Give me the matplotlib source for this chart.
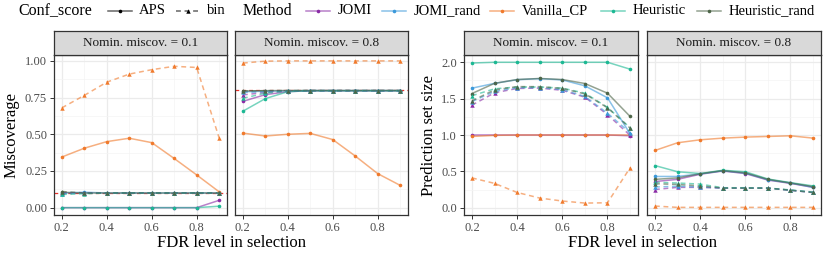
import matplotlib.pyplot as plt
from matplotlib.lines import Line2D

plt.rcParams["font.family"] = ["Liberation Serif", "DejaVu Serif"]

fdr = [0.2, 0.3, 0.4, 0.5, 0.6, 0.7, 0.8, 0.9]
methods = ["JOMI", "JOMI_rand", "Vanilla_CP", "Heuristic", "Heuristic_rand"]
colors = ["#8A2BA6", "#3B99DA", "#F07A2C", "#1CB893", "#4D6548"]
scores = ["APS", "bin"]
nominal = [0.1, 0.8]

# miscoverage, rows follow `methods`
miscov_01_aps = [
    [0, 0, 0, 0, 0, 0, 0, 0.05],
    [0.1, 0.105, 0.1, 0.1, 0.1, 0.1, 0.1, 0.1],
    [0.345, 0.405, 0.45, 0.473, 0.443, 0.335, 0.223, 0.108],
    [0, 0, 0, 0, 0, 0, 0, 0.01],
    [0.105, 0.1, 0.1, 0.1, 0.1, 0.1, 0.1, 0.1],
]
miscov_01_bin = [
    [0.1, 0.1, 0.1, 0.1, 0.1, 0.1, 0.1, 0.1],
    [0.095, 0.1, 0.1, 0.1, 0.1, 0.1, 0.1, 0.1],
    [0.68, 0.765, 0.855, 0.91, 0.94, 0.963, 0.955, 0.475],
    [0.09, 0.095, 0.1, 0.1, 0.1, 0.1, 0.1, 0.1],
    [0.11, 0.1, 0.1, 0.1, 0.1, 0.1, 0.1, 0.1],
]
miscov_08_aps = [
    [0.724, 0.77, 0.79, 0.797, 0.797, 0.797, 0.797, 0.797],
    [0.79, 0.793, 0.796, 0.797, 0.797, 0.797, 0.797, 0.797],
    [0.508, 0.488, 0.5, 0.506, 0.464, 0.352, 0.232, 0.152],
    [0.657, 0.743, 0.79, 0.797, 0.797, 0.797, 0.797, 0.797],
    [0.795, 0.797, 0.798, 0.798, 0.798, 0.798, 0.798, 0.798],
]
miscov_08_bin = [
    [0.768, 0.785, 0.795, 0.797, 0.797, 0.797, 0.797, 0.797],
    [0.785, 0.79, 0.797, 0.797, 0.797, 0.797, 0.797, 0.797],
    [0.985, 0.998, 1.0, 1.0, 1.0, 1.0, 1.0, 1.0],
    [0.745, 0.78, 0.795, 0.797, 0.797, 0.797, 0.797, 0.797],
    [0.795, 0.797, 0.798, 0.798, 0.798, 0.798, 0.798, 0.798],
]

# prediction set size
size_01_aps = [
    [1.0, 1.0, 1.0, 1.0, 1.0, 1.0, 1.0, 0.99],
    [1.644, 1.71, 1.76, 1.775, 1.757, 1.676, 1.511, 1.016],
    [0.98, 0.995, 1.0, 1.0, 1.0, 1.0, 1.0, 1.0],
    [1.99, 2.0, 2.0, 2.0, 2.0, 2.0, 2.0, 1.905],
    [1.57, 1.71, 1.763, 1.777, 1.763, 1.708, 1.575, 1.255],
]
size_01_bin = [
    [1.41, 1.58, 1.64, 1.645, 1.615, 1.52, 1.28, 0.995],
    [1.46, 1.6, 1.65, 1.65, 1.625, 1.53, 1.3, 1.03],
    [0.41, 0.335, 0.21, 0.133, 0.092, 0.064, 0.068, 0.55],
    [1.54, 1.635, 1.66, 1.66, 1.645, 1.575, 1.38, 1.1],
    [1.47, 1.62, 1.665, 1.665, 1.64, 1.565, 1.375, 1.095],
]
size_08_aps = [
    [0.36, 0.39, 0.46, 0.505, 0.47, 0.38, 0.335, 0.28],
    [0.43, 0.43, 0.465, 0.508, 0.475, 0.385, 0.34, 0.28],
    [0.787, 0.893, 0.934, 0.957, 0.971, 0.98, 0.989, 0.957],
    [0.58, 0.495, 0.47, 0.515, 0.495, 0.395, 0.345, 0.3],
    [0.39, 0.41, 0.467, 0.51, 0.48, 0.39, 0.34, 0.29],
]
size_08_bin = [
    [0.25, 0.28, 0.28, 0.27, 0.27, 0.27, 0.24, 0.21],
    [0.285, 0.295, 0.285, 0.27, 0.27, 0.27, 0.24, 0.21],
    [0.023, 0.005, 0.005, 0.005, 0.005, 0.005, 0.005, 0.005],
    [0.35, 0.34, 0.325, 0.275, 0.275, 0.27, 0.245, 0.215],
    [0.33, 0.32, 0.3, 0.27, 0.27, 0.27, 0.24, 0.21],
]

W, H = 830, 260
fig = plt.figure(figsize=(W / 100, H / 100), dpi=100)

DARK = "#333333"
TICKC = "#4D4D4D"
styles = {"APS": ("-", "o", 2.6), "bin": ((0, (3.2, 2.4)), "^", 3.2)}


def box(x0, y0, x1, y1):
    # pixel box (top-left origin) -> figure axes
    return fig.add_axes([x0 / W, 1 - y1 / H, (x1 - x0) / W, (y1 - y0) / H])


def panel(x0, x1, aps, binv, nom, ylim, yticks, fmt, show_y, hline):
    ax = box(x0, 55, x1, 215)
    ax.set_xlim(0.165, 0.935)
    ax.set_ylim(*ylim)
    ax.set_xticks([0.2, 0.4, 0.6, 0.8])
    ax.set_xticks([0.3, 0.5, 0.7, 0.9], minor=True)
    ax.set_yticks(yticks)
    step = yticks[1] - yticks[0]
    ax.set_yticks([t + step / 2 for t in yticks[:-1]], minor=True)
    ax.grid(which="major", color="#EBEBEB", lw=0.9)
    ax.grid(which="minor", color="#F4F4F4", lw=0.5)
    ax.set_axisbelow(True)
    if hline:
        ax.axhline(nom, color="#E8322B", lw=0.9, ls=(0, (3, 2.5)), zorder=1.5)
    for vals, sc in ((aps, "APS"), (binv, "bin")):
        ls, mk, ms = styles[sc]
        for i, m in enumerate(methods):
            ax.plot(fdr, vals[i], color=colors[i], ls=ls, lw=1.1, alpha=0.6, zorder=2)
            ax.plot(fdr, vals[i], color=colors[i], ls="none", marker=mk, ms=ms,
                    mew=0, zorder=3)
    ax.set_xticklabels(["0.2", "0.4", "0.6", "0.8"])
    if show_y:
        ax.set_yticklabels([fmt.format(t) for t in yticks])
    else:
        ax.tick_params(axis="y", which="both", left=False, labelleft=False)
    ax.tick_params(which="major", length=3, width=0.7, color=DARK,
                   labelsize=9, labelcolor=TICKC, pad=2)
    ax.tick_params(which="minor", length=0)
    for s in ax.spines.values():
        s.set_color(DARK)
        s.set_linewidth(0.9)
    st = box(x0, 31, x1, 55)
    st.set_facecolor("#D9D9D9")
    st.set_xticks([])
    st.set_yticks([])
    for s in st.spines.values():
        s.set_color(DARK)
        s.set_linewidth(0.9)
    st.text(0.5, 0.48, "Nomin. miscov. = {}".format(nom), ha="center", va="center",
            fontsize=9.5, color="#1A1A1A", transform=st.transAxes)
    return ax


panel(54, 227, miscov_01_aps, miscov_01_bin, nominal[0], (-0.05, 1.04),
      [0, 0.25, 0.5, 0.75, 1.0], "{:.2f}", True, True)
panel(235, 408, miscov_08_aps, miscov_08_bin, nominal[1], (-0.05, 1.04),
      [0, 0.25, 0.5, 0.75, 1.0], "{:.2f}", False, True)
panel(464, 638, size_01_aps, size_01_bin, nominal[0], (-0.1, 2.1),
      [0, 0.5, 1.0, 1.5, 2.0], "{:.1f}", True, False)
panel(647, 821, size_08_aps, size_08_bin, nominal[1], (-0.1, 2.1),
      [0, 0.5, 1.0, 1.5, 2.0], "{:.1f}", False, False)

fig.text(231 / W, 1 - 243 / H, "FDR level in selection", ha="center", va="center",
         fontsize=12)
fig.text(642 / W, 1 - 243 / H, "FDR level in selection", ha="center", va="center",
         fontsize=12)
fig.text(12 / W, 1 - 135 / H, "Miscoverage", rotation=90, ha="center",
         va="center", fontsize=12)
fig.text(429 / W, 1 - 135 / H, "Prediction set size", rotation=90, ha="center",
         va="center", fontsize=12)

# legend strip along the top (pixel layout)
leg = fig.add_axes([0, 1 - 22 / H, 1, 22 / H])
leg.set_xlim(0, W)
leg.set_ylim(22, 0)
leg.axis("off")
ly = 11


def put_key(x, color, ls, mk, ms):
    leg.add_line(Line2D([x, x + 24], [ly, ly], color=color, ls=ls, lw=1.1, alpha=0.6))
    leg.add_line(Line2D([x + 12], [ly], color=color, ls="none", marker=mk, ms=ms, mew=0))


leg.text(18, ly, "Conf_score", ha="left", va="center", fontsize=11.5)
score_x = [108, 176]
for sc, kx in zip(scores, score_x):
    ls, mk, ms = styles[sc]
    put_key(kx, "black", ls, mk, ms)
    leg.text(kx + 31, ly, sc, ha="left", va="center", fontsize=10.5)
leg.text(243, ly, "Method", ha="left", va="center", fontsize=11.5)
method_x = [306, 382, 490, 601, 697]
for m, c, kx in zip(methods, colors, method_x):
    put_key(kx, c, "-", "o", 2.6)
    leg.text(kx + 32, ly, m, ha="left", va="center", fontsize=10.5)

fig.savefig("out.png", dpi=100)
